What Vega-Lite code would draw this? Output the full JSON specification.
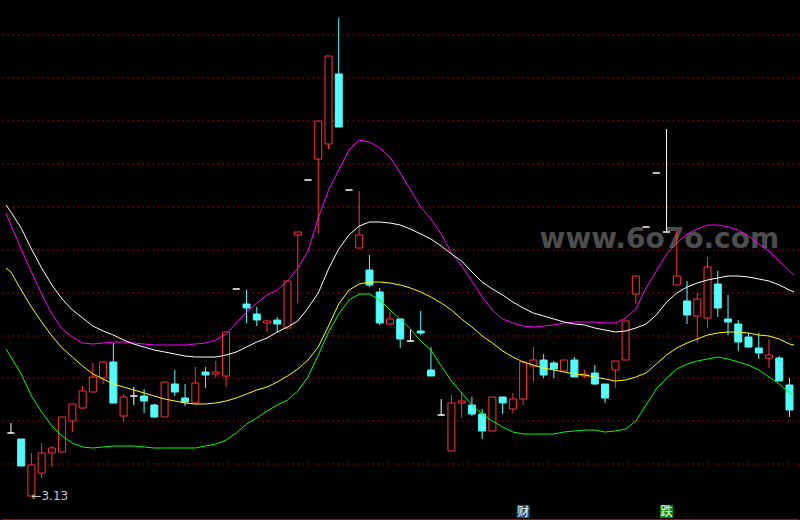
{
"$schema": "https://vega.github.io/schema/vega-lite/v6.json",
"width": 800, "height": 520,
"autosize": {"type": "fit", "contains": "padding"},
"padding": 0,
"background": "#000000",
"config": {"view": {"stroke": null}},
"datasets": {
"k": [
{"i":-0.48,"m":3.413,"w":3.421,"yl":3.358,"g":3.277},
{"i":0,"o":3.193,"c":3.193,"h":3.203,"l":3.193,"t":"flat","m":3.401,"w":3.414,"yl":3.354,"g":3.269},
{"i":1,"o":3.187,"c":3.160,"h":3.187,"l":3.160,"t":"down","m":3.377,"w":3.398,"yl":3.336,"g":3.252},
{"i":2,"o":3.130,"c":3.161,"h":3.173,"l":3.130,"t":"up","m":3.354,"w":3.377,"yl":3.319,"g":3.230},
{"i":3,"o":3.153,"c":3.173,"h":3.183,"l":3.148,"t":"up","m":3.332,"w":3.358,"yl":3.304,"g":3.214},
{"i":4,"o":3.173,"c":3.178,"h":3.180,"l":3.159,"t":"up","m":3.312,"w":3.341,"yl":3.290,"g":3.200},
{"i":5,"o":3.174,"c":3.209,"h":3.209,"l":3.174,"t":"up","m":3.297,"w":3.327,"yl":3.278,"g":3.190},
{"i":6,"o":3.205,"c":3.222,"h":3.222,"l":3.194,"t":"up","m":3.289,"w":3.316,"yl":3.269,"g":3.183},
{"i":7,"o":3.218,"c":3.235,"h":3.240,"l":3.217,"t":"up","m":3.283,"w":3.308,"yl":3.260,"g":3.179},
{"i":8,"o":3.234,"c":3.249,"h":3.263,"l":3.234,"t":"up","m":3.282,"w":3.300,"yl":3.252,"g":3.178},
{"i":9,"o":3.248,"c":3.264,"h":3.264,"l":3.242,"t":"up","m":3.283,"w":3.295,"yl":3.247,"g":3.179},
{"i":10,"o":3.264,"c":3.223,"h":3.283,"l":3.223,"t":"down","m":3.284,"w":3.291,"yl":3.242,"g":3.180},
{"i":11,"o":3.210,"c":3.229,"h":3.232,"l":3.204,"t":"up","m":3.284,"w":3.286,"yl":3.239,"g":3.180},
{"i":12,"o":3.230,"c":3.230,"h":3.239,"l":3.221,"t":"flat","m":3.283,"w":3.282,"yl":3.236,"g":3.180},
{"i":13,"o":3.230,"c":3.225,"h":3.237,"l":3.213,"t":"down","m":3.282,"w":3.279,"yl":3.233,"g":3.179},
{"i":14,"o":3.221,"c":3.209,"h":3.222,"l":3.208,"t":"down","m":3.281,"w":3.276,"yl":3.230,"g":3.178},
{"i":15,"o":3.209,"c":3.244,"h":3.244,"l":3.209,"t":"up","m":3.281,"w":3.274,"yl":3.227,"g":3.178},
{"i":16,"o":3.242,"c":3.234,"h":3.256,"l":3.230,"t":"down","m":3.281,"w":3.272,"yl":3.225,"g":3.178},
{"i":17,"o":3.228,"c":3.224,"h":3.242,"l":3.220,"t":"down","m":3.281,"w":3.270,"yl":3.223,"g":3.178},
{"i":18,"o":3.223,"c":3.243,"h":3.259,"l":3.223,"t":"up","m":3.282,"w":3.269,"yl":3.222,"g":3.178},
{"i":19,"o":3.254,"c":3.251,"h":3.259,"l":3.238,"t":"down","m":3.283,"w":3.269,"yl":3.222,"g":3.180},
{"i":20,"o":3.252,"c":3.254,"h":3.265,"l":3.248,"t":"up","m":3.286,"w":3.269,"yl":3.223,"g":3.182},
{"i":21,"o":3.250,"c":3.294,"h":3.294,"l":3.239,"t":"up","m":3.292,"w":3.271,"yl":3.225,"g":3.186},
{"i":22,"o":3.337,"c":3.337,"h":3.337,"l":3.337,"t":"flat","m":3.303,"w":3.274,"yl":3.228,"g":3.193},
{"i":23,"o":3.322,"c":3.318,"h":3.336,"l":3.303,"t":"down","m":3.314,"w":3.279,"yl":3.232,"g":3.202},
{"i":24,"o":3.312,"c":3.306,"h":3.319,"l":3.300,"t":"down","m":3.323,"w":3.284,"yl":3.236,"g":3.208},
{"i":25,"o":3.303,"c":3.305,"h":3.306,"l":3.294,"t":"up","m":3.331,"w":3.288,"yl":3.239,"g":3.215},
{"i":26,"o":3.306,"c":3.302,"h":3.309,"l":3.294,"t":"down","m":3.336,"w":3.294,"yl":3.244,"g":3.221},
{"i":27,"o":3.298,"c":3.345,"h":3.345,"l":3.297,"t":"up","m":3.345,"w":3.299,"yl":3.250,"g":3.226},
{"i":28,"o":3.391,"c":3.394,"h":3.394,"l":3.323,"t":"up","m":3.358,"w":3.305,"yl":3.257,"g":3.235},
{"i":29,"o":3.446,"c":3.446,"h":3.446,"l":3.446,"t":"flat","m":3.375,"w":3.318,"yl":3.266,"g":3.249},
{"i":30,"o":3.467,"c":3.505,"h":3.505,"l":3.393,"t":"up","m":3.408,"w":3.333,"yl":3.279,"g":3.271},
{"i":31,"o":3.482,"c":3.570,"h":3.570,"l":3.477,"t":"up","m":3.436,"w":3.357,"yl":3.300,"g":3.294},
{"i":32,"o":3.552,"c":3.499,"h":3.608,"l":3.499,"t":"down","m":3.456,"w":3.377,"yl":3.322,"g":3.312},
{"i":33,"o":3.436,"c":3.436,"h":3.436,"l":3.436,"t":"flat","m":3.476,"w":3.391,"yl":3.336,"g":3.326},
{"i":34,"o":3.378,"c":3.391,"h":3.435,"l":3.378,"t":"up","m":3.486,"w":3.400,"yl":3.342,"g":3.332},
{"i":35,"o":3.356,"c":3.341,"h":3.371,"l":3.339,"t":"down","m":3.484,"w":3.404,"yl":3.344,"g":3.332},
{"i":36,"o":3.334,"c":3.303,"h":3.338,"l":3.301,"t":"down","m":3.478,"w":3.404,"yl":3.344,"g":3.326},
{"i":37,"o":3.302,"c":3.307,"h":3.314,"l":3.301,"t":"up","m":3.469,"w":3.403,"yl":3.343,"g":3.316},
{"i":38,"o":3.307,"c":3.287,"h":3.308,"l":3.278,"t":"down","m":3.453,"w":3.401,"yl":3.341,"g":3.307},
{"i":39,"o":3.285,"c":3.285,"h":3.297,"l":3.285,"t":"flat","m":3.436,"w":3.397,"yl":3.338,"g":3.297},
{"i":40,"o":3.295,"c":3.293,"h":3.315,"l":3.291,"t":"down","m":3.419,"w":3.392,"yl":3.334,"g":3.285},
{"i":41,"o":3.256,"c":3.250,"h":3.279,"l":3.250,"t":"down","m":3.407,"w":3.387,"yl":3.329,"g":3.276},
{"i":42,"o":3.211,"c":3.211,"h":3.227,"l":3.211,"t":"flat","m":3.392,"w":3.380,"yl":3.323,"g":3.260},
{"i":43,"o":3.175,"c":3.223,"h":3.231,"l":3.175,"t":"up","m":3.373,"w":3.372,"yl":3.316,"g":3.245},
{"i":44,"o":3.223,"c":3.225,"h":3.234,"l":3.208,"t":"up","m":3.360,"w":3.365,"yl":3.307,"g":3.233},
{"i":45,"o":3.221,"c":3.212,"h":3.229,"l":3.210,"t":"down","m":3.345,"w":3.354,"yl":3.299,"g":3.221},
{"i":46,"o":3.212,"c":3.195,"h":3.217,"l":3.187,"t":"down","m":3.329,"w":3.344,"yl":3.290,"g":3.212},
{"i":47,"o":3.195,"c":3.229,"h":3.229,"l":3.195,"t":"up","m":3.316,"w":3.337,"yl":3.283,"g":3.205},
{"i":48,"o":3.229,"c":3.223,"h":3.229,"l":3.212,"t":"down","m":3.307,"w":3.331,"yl":3.275,"g":3.199},
{"i":49,"o":3.217,"c":3.227,"h":3.233,"l":3.213,"t":"up","m":3.303,"w":3.324,"yl":3.269,"g":3.194},
{"i":50,"o":3.227,"c":3.264,"h":3.264,"l":3.221,"t":"up","m":3.300,"w":3.318,"yl":3.264,"g":3.192},
{"i":51,"o":3.260,"c":3.266,"h":3.279,"l":3.244,"t":"up","m":3.299,"w":3.313,"yl":3.261,"g":3.192},
{"i":52,"o":3.266,"c":3.251,"h":3.272,"l":3.248,"t":"down","m":3.300,"w":3.310,"yl":3.258,"g":3.192},
{"i":53,"o":3.263,"c":3.257,"h":3.265,"l":3.248,"t":"down","m":3.301,"w":3.307,"yl":3.256,"g":3.192},
{"i":54,"o":3.255,"c":3.266,"h":3.266,"l":3.255,"t":"up","m":3.303,"w":3.304,"yl":3.254,"g":3.194},
{"i":55,"o":3.266,"c":3.249,"h":3.269,"l":3.249,"t":"down","m":3.304,"w":3.302,"yl":3.252,"g":3.195},
{"i":56,"o":3.250,"c":3.252,"h":3.256,"l":3.248,"t":"up","m":3.304,"w":3.301,"yl":3.251,"g":3.196},
{"i":57,"o":3.253,"c":3.242,"h":3.261,"l":3.241,"t":"down","m":3.304,"w":3.298,"yl":3.249,"g":3.196},
{"i":58,"o":3.242,"c":3.228,"h":3.242,"l":3.223,"t":"down","m":3.303,"w":3.296,"yl":3.247,"g":3.194},
{"i":59,"o":3.256,"c":3.265,"h":3.265,"l":3.238,"t":"up","m":3.303,"w":3.294,"yl":3.245,"g":3.195},
{"i":60,"o":3.266,"c":3.305,"h":3.305,"l":3.266,"t":"up","m":3.308,"w":3.295,"yl":3.246,"g":3.197},
{"i":61,"o":3.332,"c":3.350,"h":3.350,"l":3.322,"t":"up","m":3.317,"w":3.298,"yl":3.249,"g":3.205},
{"i":62,"o":3.399,"c":3.399,"h":3.399,"l":3.399,"t":"flat","m":3.338,"w":3.302,"yl":3.253,"g":3.221},
{"i":63,"o":3.453,"c":3.453,"h":3.453,"l":3.453,"t":"flat","m":3.355,"w":3.311,"yl":3.262,"g":3.237},
{"i":64,"o":3.394,"c":3.394,"h":3.497,"l":3.394,"t":"flat","m":3.372,"w":3.324,"yl":3.271,"g":3.248},
{"i":65,"o":3.341,"c":3.350,"h":3.394,"l":3.341,"t":"up","m":3.383,"w":3.333,"yl":3.278,"g":3.257},
{"i":66,"o":3.325,"c":3.311,"h":3.345,"l":3.302,"t":"down","m":3.392,"w":3.339,"yl":3.283,"g":3.262},
{"i":67,"o":3.310,"c":3.327,"h":3.333,"l":3.283,"t":"up","m":3.397,"w":3.343,"yl":3.287,"g":3.265},
{"i":68,"o":3.308,"c":3.359,"h":3.369,"l":3.298,"t":"up","m":3.401,"w":3.346,"yl":3.291,"g":3.267},
{"i":69,"o":3.342,"c":3.318,"h":3.355,"l":3.309,"t":"down","m":3.401,"w":3.348,"yl":3.293,"g":3.269},
{"i":70,"o":3.307,"c":3.304,"h":3.331,"l":3.291,"t":"down","m":3.399,"w":3.350,"yl":3.294,"g":3.267},
{"i":71,"o":3.302,"c":3.284,"h":3.306,"l":3.275,"t":"down","m":3.396,"w":3.350,"yl":3.294,"g":3.264},
{"i":72,"o":3.289,"c":3.279,"h":3.293,"l":3.278,"t":"down","m":3.390,"w":3.349,"yl":3.293,"g":3.261},
{"i":73,"o":3.278,"c":3.273,"h":3.293,"l":3.267,"t":"down","m":3.382,"w":3.347,"yl":3.291,"g":3.256},
{"i":74,"o":3.268,"c":3.271,"h":3.286,"l":3.258,"t":"up","m":3.375,"w":3.345,"yl":3.290,"g":3.249},
{"i":75,"o":3.268,"c":3.245,"h":3.270,"l":3.245,"t":"down","m":3.365,"w":3.341,"yl":3.287,"g":3.242},
{"i":76,"o":3.241,"c":3.216,"h":3.248,"l":3.209,"t":"down","m":3.355,"w":3.336,"yl":3.282,"g":3.233},
{"i":76.44,"m":3.351,"w":3.334,"yl":3.281,"g":3.231}
],
"grid": [{"v":3.591},{"v":3.548},{"v":3.505},{"v":3.462},{"v":3.419},{"v":3.376},{"v":3.333},{"v":3.290},{"v":3.248},{"v":3.205},{"v":3.162}],
"tags": [{"i":50,"v":3.1145,"s":"财"},{"i":64,"v":3.1145,"s":"跌"}],
"low": [{"i":2,"v":3.130,"s":"←3.13"}],
"wm": [{"i":51.6,"v":3.378,"s":"www.6o7o.com"}]
},
"layer": [
{"data":{"name":"grid"},"mark":{"type":"rule","color":"#cc0000","strokeWidth":1,"strokeDash":[1.5,3.5]},
 "encoding":{"y":{"field":"v","type":"quantitative","scale":{"domain":[3.106,3.626],"nice":false,"zero":false},"axis":null}}},
{"data":{"name":"grid"},"mark":{"type":"rule","color":"#c00000","strokeWidth":1},
 "encoding":{"y":{"datum":3.1065,"type":"quantitative","scale":{"domain":[3.106,3.626],"nice":false,"zero":false},"axis":null}}},
{"data":{"name":"wm"},"mark":{"type":"text","font":"DejaVu Sans","fontWeight":"bold","fontSize":28,"color":"#4d4d4d","align":"left","baseline":"alphabetic"},
 "encoding":{"x":{"field":"i","type":"quantitative","scale":{"domain":[-0.48,76.44],"nice":false,"zero":false},"axis":null},
  "y":{"field":"v","type":"quantitative","scale":{"domain":[3.106,3.626],"nice":false,"zero":false},"axis":null},"text":{"field":"s"}}},
{"data":{"name":"k"},"transform":[{"filter":"isValid(datum.h)"}],"mark":{"type":"rule","strokeWidth":1},
 "encoding":{"x":{"field":"i","type":"quantitative","scale":{"domain":[-0.48,76.44],"nice":false,"zero":false},"axis":null},
  "y":{"field":"l","type":"quantitative","scale":{"domain":[3.106,3.626],"nice":false,"zero":false},"axis":null},"y2":{"field":"h"},
  "color":{"field":"t","type":"nominal","scale":{"domain":["up","down","flat"],"range":["#ff3232","#54fcfc","#ffffff"]},"legend":null}}},
{"data":{"name":"k"},"transform":[{"filter":"isValid(datum.o)"}],"mark":{"type":"bar","size":7,"strokeWidth":1},
 "encoding":{"x":{"field":"i","type":"quantitative","scale":{"domain":[-0.48,76.44],"nice":false,"zero":false},"axis":null},
  "y":{"field":"o","type":"quantitative","scale":{"domain":[3.106,3.626],"nice":false,"zero":false},"axis":null},"y2":{"field":"c"},
  "fill":{"field":"t","type":"nominal","scale":{"domain":["up","down","flat"],"range":["#000000","#54fcfc","#ffffff"]},"legend":null},
  "stroke":{"field":"t","type":"nominal","scale":{"domain":["up","down","flat"],"range":["#ff3232","#54fcfc","#ffffff"]},"legend":null}}},
{"data":{"name":"k"},"mark":{"type":"line","color":"#ff00ff","strokeWidth":1},
 "encoding":{"x":{"field":"i","type":"quantitative","scale":{"domain":[-0.48,76.44],"nice":false,"zero":false},"axis":null},
  "y":{"field":"m","type":"quantitative","scale":{"domain":[3.106,3.626],"nice":false,"zero":false},"axis":null}}},
{"data":{"name":"k"},"mark":{"type":"line","color":"#ffffff","strokeWidth":1},
 "encoding":{"x":{"field":"i","type":"quantitative","scale":{"domain":[-0.48,76.44],"nice":false,"zero":false},"axis":null},
  "y":{"field":"w","type":"quantitative","scale":{"domain":[3.106,3.626],"nice":false,"zero":false},"axis":null}}},
{"data":{"name":"k"},"mark":{"type":"line","color":"#ffff00","strokeWidth":1},
 "encoding":{"x":{"field":"i","type":"quantitative","scale":{"domain":[-0.48,76.44],"nice":false,"zero":false},"axis":null},
  "y":{"field":"yl","type":"quantitative","scale":{"domain":[3.106,3.626],"nice":false,"zero":false},"axis":null}}},
{"data":{"name":"k"},"mark":{"type":"line","color":"#00ff00","strokeWidth":1},
 "encoding":{"x":{"field":"i","type":"quantitative","scale":{"domain":[-0.48,76.44],"nice":false,"zero":false},"axis":null},
  "y":{"field":"g","type":"quantitative","scale":{"domain":[3.106,3.626],"nice":false,"zero":false},"axis":null}}},
{"data":{"name":"tags"},"transform":[{"filter":"datum.s === '财'"}],"mark":{"type":"point","shape":"square","filled":true,"size":169,"color":"#1b4c7e","opacity":1},
 "encoding":{"x":{"field":"i","type":"quantitative","scale":{"domain":[-0.48,76.44],"nice":false,"zero":false},"axis":null},
  "y":{"field":"v","type":"quantitative","scale":{"domain":[3.106,3.626],"nice":false,"zero":false},"axis":null}}},
{"data":{"name":"tags"},"transform":[{"filter":"datum.s === '跌'"}],"mark":{"type":"point","shape":"square","filled":true,"size":169,"color":"#0a8a0a","opacity":1},
 "encoding":{"x":{"field":"i","type":"quantitative","scale":{"domain":[-0.48,76.44],"nice":false,"zero":false},"axis":null},
  "y":{"field":"v","type":"quantitative","scale":{"domain":[3.106,3.626],"nice":false,"zero":false},"axis":null}}},
{"data":{"name":"tags"},"mark":{"type":"text","font":"Noto Sans CJK SC","fontSize":12,"color":"#ffffff","align":"center","baseline":"middle"},
 "encoding":{"x":{"field":"i","type":"quantitative","scale":{"domain":[-0.48,76.44],"nice":false,"zero":false},"axis":null},
  "y":{"field":"v","type":"quantitative","scale":{"domain":[3.106,3.626],"nice":false,"zero":false},"axis":null},"text":{"field":"s"}}},
{"data":{"name":"low"},"mark":{"type":"text","font":"DejaVu Sans","fontSize":12,"color":"#c8c8c8","align":"left","baseline":"middle"},
 "encoding":{"x":{"field":"i","type":"quantitative","scale":{"domain":[-0.48,76.44],"nice":false,"zero":false},"axis":null},
  "y":{"field":"v","type":"quantitative","scale":{"domain":[3.106,3.626],"nice":false,"zero":false},"axis":null},"text":{"field":"s"}}}
]
}
